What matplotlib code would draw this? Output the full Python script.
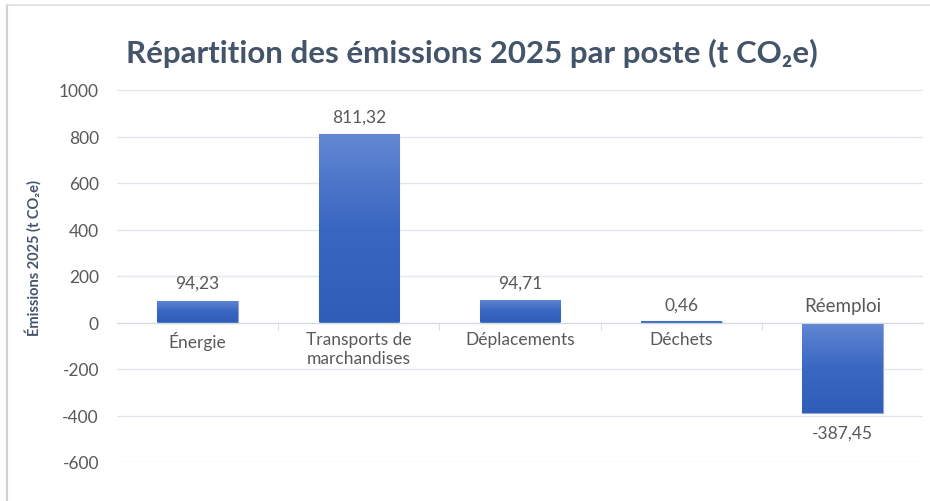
import matplotlib
matplotlib.use("Agg")
import matplotlib.pyplot as plt
import numpy as np
from matplotlib.colors import LinearSegmentedColormap

categories = ["Énergie", "Transports de\nmarchandises", "Déplacements", "Déchets", "Réemploi"]
values = [94.23, 811.32, 94.71, 0.46, -387.45]
value_labels = ["94,23", "811,32", "94,71", "0,46", "-387,45"]
yticks = [-600, -400, -200, 0, 200, 400, 600, 800, 1000]

FAM = ["Lato", "DejaVu Sans"]
plt.rcParams['font.family'] = FAM

fig = plt.figure(figsize=(9.3, 5.02), dpi=100)
ax = fig.add_axes([117/930, 1 - 463/502, (923 - 117)/930, (463 - 91)/502])
ax.set_xlim(-0.5, 4.5)
ax.set_ylim(-600, 1000)

grid_c = "#E3E6EC"
txt_c = "#595959"
ax.set_yticks(yticks)
ax.set_yticklabels([str(t) for t in yticks], fontsize=12.5, color=txt_c)
ax.tick_params(axis='y', length=0, pad=13)
ax.grid(axis='y', color=grid_c, linewidth=1)
ax.set_axisbelow(True)
for s in ['left', 'right', 'top']:
    ax.spines[s].set_visible(False)
ax.spines['bottom'].set_position(('data', 0))
ax.spines['bottom'].set_color("#D5D9E0")
ax.set_xticks([])
ax.set_xticks([0.5, 1.5, 2.5, 3.5], minor=True)
ax.tick_params(axis='x', which='minor', length=5, color="#D5D9E0", direction='out')

cmap = LinearSegmentedColormap.from_list("g", ["#6388D3", "#3A67C2", "#2F5DB8"])
grad = np.linspace(0, 1, 256).reshape(-1, 1)
x = np.arange(len(categories))
bars = ax.bar(x, values, width=0.5, color="#4472C4", edgecolor="#8EA7DE", linewidth=0.8, zorder=2)
for b, v in zip(bars, values):
    bx, by = b.get_x(), b.get_y()
    w, h = b.get_width(), b.get_height()
    top, bottom = max(by, by + h), min(by, by + h)
    if top - bottom < 1:
        continue
    im = ax.imshow(grad, cmap=cmap, aspect='auto', extent=[bx, bx + w, bottom, top],
                   origin='upper', zorder=2.5)
    im.set_clip_path(b)
ax.plot([3 - 0.25, 3 + 0.25], [values[3], values[3]], color="#4472C4", lw=1.5, zorder=3, solid_capstyle='butt')

for i, (v, lab, cat) in enumerate(zip(values, value_labels, categories)):
    if v >= 0:
        ax.annotate(lab, (i, v), xytext=(0, 7), textcoords='offset points', ha='center', va='bottom',
                    fontsize=12.5, color=txt_c)
        ax.annotate(cat, (i, 0), xytext=(0, -6), textcoords='offset points', ha='center', va='top',
                    fontsize=12.5, color=txt_c, linespacing=1.25)
    else:
        ax.annotate(lab, (i, v), xytext=(0, -9), textcoords='offset points', ha='center', va='top',
                    fontsize=12.5, color=txt_c)
        ax.annotate(cat, (i, 0), xytext=(0, 6), textcoords='offset points', ha='center', va='bottom',
                    fontsize=13.5, color=txt_c)

fig.text(472/930, 1 - 53/502, "Répartition des émissions 2025 par poste (t CO₂e)", ha='center', va='center',
         fontsize=22.5, fontweight='bold', color="#44546A")
fig.text(33/930, 1 - 258/502, "Émissions 2025 (t CO₂e)", rotation=90, ha='center', va='center',
         fontsize=10.5, fontweight='bold', color="#44546A")

fig.add_artist(plt.Line2D([7/930, 7/930], [0, 1 - 6/502], transform=fig.transFigure, color="#D0D0D0", lw=1.5))
fig.add_artist(plt.Line2D([7/930, 1], [1 - 6/502, 1 - 6/502], transform=fig.transFigure, color="#E0E0E0", lw=1.2))

fig.savefig("out.png", dpi=100)
